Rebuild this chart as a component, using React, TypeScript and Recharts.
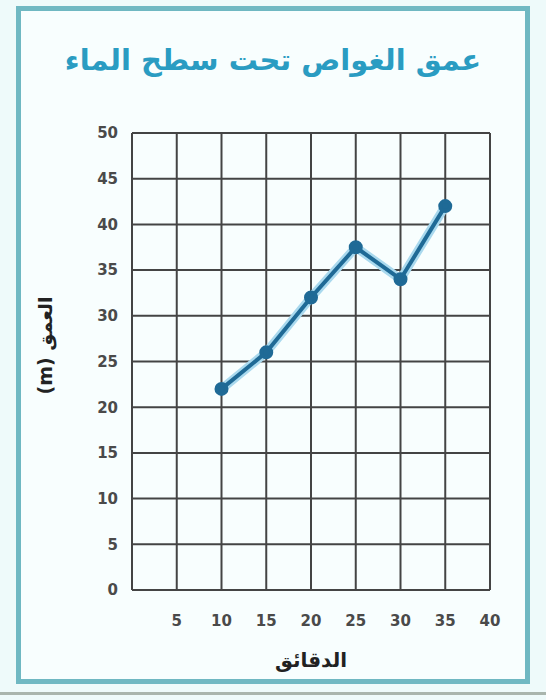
import React from 'react';
import { LineChart, Line, XAxis, YAxis, CartesianGrid, Label } from 'recharts';

const minutes = [10, 15, 20, 25, 30, 35];
const depths = [22, 26, 32, 37.5, 34, 42];
const xTicks = [0, 5, 10, 15, 20, 25, 30, 35, 40];
const yTicks = [0, 5, 10, 15, 20, 25, 30, 35, 40, 45, 50];
const titleText = 'عمق الغواص تحت سطح الماء';
const xLabel = 'الدقائق';
const yLabel = 'العمق (m)';

const data = minutes.map((m, i) => ({ m, d: depths[i] }));

const labelFont = { fill: '#222', fontSize: 19, fontWeight: 700, fontFamily: 'DejaVu Sans' };

function YLabel(props: any) {
  const vb = props.viewBox || { x: 60, y: 133, width: 72, height: 457 };
  const cx = vb.x - 15;
  const cy = vb.y + vb.height / 2 - 16;
  return (
    <text x={cx} y={cy} transform={`rotate(-90, ${cx}, ${cy})`} textAnchor="middle" dominantBaseline="central" direction="rtl" style={{ ...labelFont, direction: 'rtl', unicodeBidi: 'plaintext' } as any}>
      {yLabel}
    </text>
  );
}

export default function App() {
  const tickStyle = { fill: '#4a4a4a', fontSize: 15, fontWeight: 700, fontFamily: 'DejaVu Sans' };
  return (
    <div style={{ position: 'absolute', left: 0, top: 0, width: 546, height: 700, background: '#eefafa', overflow: 'hidden' }}>
      <div style={{ position: 'absolute', left: 16, top: 6, width: 504, height: 668, border: '5px solid #6fb8c2', background: '#f8fefe' }} />
      <div style={{ position: 'absolute', left: 0, top: 692, width: 546, height: 3, background: '#a9b5ad' }} />
      <div style={{ position: 'absolute', left: 0, top: 43, width: 546, textAlign: 'center', color: '#2a9cc2', fontFamily: 'DejaVu Sans', fontWeight: 700, fontSize: 29, direction: 'rtl' }}>
        {titleText}
      </div>
      <div style={{ position: 'absolute', left: 0, top: 0 }}>
        <LineChart width={546} height={700} data={data} margin={{ top: 133, right: 56, bottom: 80, left: 60 }}>
          <CartesianGrid stroke="#444" strokeWidth={2} />
          <XAxis
            dataKey="m"
            type="number"
            domain={[0, 40]}
            ticks={xTicks}
            tickFormatter={(v: number) => (v === 0 ? '' : String(v))}
            axisLine={{ stroke: '#444', strokeWidth: 2 }}
            tickLine={false}
            tickSize={0}
            tickMargin={25}
            tick={tickStyle}
            height={30}
            interval={0}
          >
            <Label value={xLabel} position="bottom" offset={33} style={{ ...labelFont, fontSize: 20 }} />
          </XAxis>
          <YAxis
            type="number"
            domain={[0, 50]}
            ticks={yTicks}
            axisLine={{ stroke: '#444', strokeWidth: 2 }}
            tickLine={false}
            tickSize={0}
            tickMargin={14}
            tick={tickStyle}
            width={72}
            interval={0}
          >
            <Label content={<YLabel />} />
          </YAxis>
          <Line dataKey="d" stroke="#a9d9ee" strokeWidth={9} dot={false} isAnimationActive={false} />
          <Line dataKey="d" stroke="#1f6a96" strokeWidth={4} dot={{ r: 5, fill: '#1f6a96', stroke: '#1f6a96' }} isAnimationActive={false} />
        </LineChart>
      </div>
    </div>
  );
}
